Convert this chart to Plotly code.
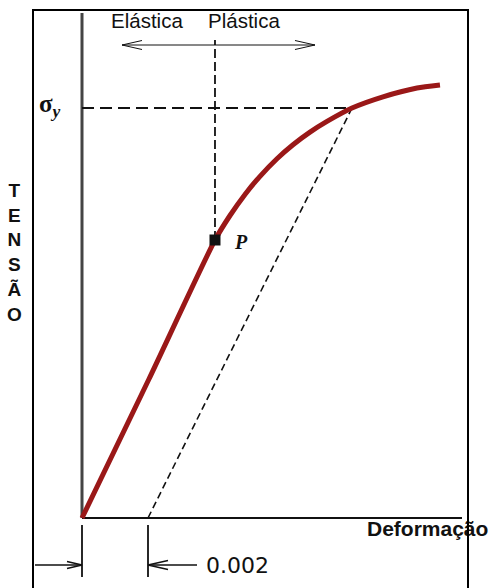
import plotly.graph_objects as go

# ---- data (strain, stress) ----
strain = [0, 0.002030, 0.004030, 0.004485, 0.004939, 0.005394, 0.005909,
          0.006394, 0.006909, 0.007424, 0.008182, 0.009121, 0.010152, 0.010848]
stress = [0, 139, 278, 302.5, 323.6, 341.7, 359.3,
          373.3, 385.9, 396.6, 410, 421.2, 430, 433]

p_point = [0.00403, 278]          # proportional limit P
sigma_y = 410                     # yield stress
offset_strain = 0.002             # 0.2 % offset
yield_strain = 0.008182           # strain where offset line meets curve
axis_strain_max = 0.011515
axis_stress_max = 505
region_stress = 473               # level of Elástica/Plástica arrow
region_span = [0.001212, 0.00706]
p_dash_top = 478
dim_tick = [-7, -59]              # dimension ticks below the axis
dim_arrow_level = -47
dim_left_start = -0.001424
dim_right_start = 0.003485

# ---- geometry of the canvas ----
W, H = 491, 588
SX = 33000.0                      # px per strain unit
OX, OY = 82, 518                  # origin in px


def px_x(px):
    return (px - OX) / SX


def px_y(py):
    return OY - py


def head(tx, ty, direction, length_px, half_px):
    bx = tx + direction * length_px / SX
    return [bx, tx, bx], [ty + half_px, ty, ty - half_px]


fig = go.Figure()

black = "#111111"


def line(xs, ys, color=black, width=1.5, dash=None):
    fig.add_trace(go.Scatter(x=xs, y=ys, mode="lines", hoverinfo="skip",
                             line=dict(color=color, width=width, dash=dash),
                             showlegend=False))


# axes
line([0, 0], [0, axis_stress_max], color="#444444", width=3)
line([0, axis_strain_max], [0, 0], color=black, width=2)

# dashed guides
line([0, yield_strain], [sigma_y, sigma_y], width=1.8, dash="12px,6px")
line([p_point[0], p_point[0]], [p_point[1], p_dash_top], width=1.8, dash="9px,4px")
line([offset_strain, yield_strain], [0, sigma_y], width=1.6, dash="7px,4px")

# stress-strain curve
fig.add_trace(go.Scatter(x=strain, y=stress, mode="lines", hoverinfo="skip",
                         line=dict(color="#9a1818", width=5, shape="spline", smoothing=0.6),
                         showlegend=False))

# P marker
fig.add_trace(go.Scatter(x=[p_point[0]], y=[p_point[1]], mode="markers", hoverinfo="skip",
                         marker=dict(symbol="square", size=11, color=black),
                         showlegend=False))

# region arrow
line(region_span, [region_stress, region_stress], width=1)
hx, hy = head(region_span[0], region_stress, +1, 20, 4.5)
line(hx, hy, width=1)
hx, hy = head(region_span[1], region_stress, -1, 20, 4.5)
line(hx, hy, width=1)

# dimension 0.002
line([0, 0], dim_tick, width=1.8)
line([offset_strain, offset_strain], dim_tick, width=1.8)
line([dim_left_start, 0], [dim_arrow_level, dim_arrow_level], width=1.5)
hx, hy = head(0, dim_arrow_level, -1, 15, 3.5)
line(hx, hy, width=1.5)
line([offset_strain, dim_right_start], [dim_arrow_level, dim_arrow_level], width=1.5)
hx, hy = head(offset_strain, dim_arrow_level, +1, 20, 4.5)
line(hx, hy, width=1.5)

# Deformação label as text trace (frame drawn over it)
fig.add_trace(go.Scatter(x=[px_x(367)], y=[px_y(531)], mode="text",
                         text=["<b>Deformação</b>"], textposition="middle right",
                         textfont=dict(family="Liberation Sans, Arial", size=21, color=black),
                         hoverinfo="skip", showlegend=False))

sans = "Liberation Sans, Arial"
serif = "Liberation Serif, Times New Roman"
annotations = [
    dict(x=px_x(146.5), y=px_y(20), text="Elástica", font=dict(family=sans, size=20.5, color=black)),
    dict(x=px_x(243.5), y=px_y(20), text="Plástica", font=dict(family=sans, size=20.5, color=black)),
    dict(x=px_x(50), y=px_y(105), text="<b>σ<sub><i>y</i></sub></b>", font=dict(family=serif, size=25, color=black)),
    dict(x=px_x(241), y=px_y(242), text="<b><i>P</i></b>", font=dict(family=serif, size=20, color=black)),
    dict(x=px_x(14), y=px_y(252), text="<b>T<br>E<br>N<br>S<br>Ã<br>O</b>", font=dict(family=sans, size=19, color=black)),
    dict(x=px_x(204), y=px_y(565), text="0.002", xanchor="left", font=dict(family="DejaVu Sans", size=22, color=black)),
]
for a in annotations:
    a.setdefault("xanchor", "center")
    a.update(xref="x", yref="y", showarrow=False, yanchor="middle")

fig.update_layout(
    width=W, height=H,
    margin=dict(l=0, r=0, t=0, b=0),
    paper_bgcolor="white", plot_bgcolor="white",
    xaxis=dict(range=[px_x(0), px_x(W)], visible=False, fixedrange=True),
    yaxis=dict(range=[px_y(H), px_y(0)], visible=False, fixedrange=True),
    annotations=annotations,
    shapes=[dict(type="rect", xref="paper", yref="paper",
                 x0=33 / W, x1=468 / W, y0=-0.05, y1=1 - 10 / H,
                 line=dict(color="black", width=2), layer="above")],
)

fig.write_html("out.html", config={"displayModeBar": False},
               post_script="document.body.style.margin='0';")
